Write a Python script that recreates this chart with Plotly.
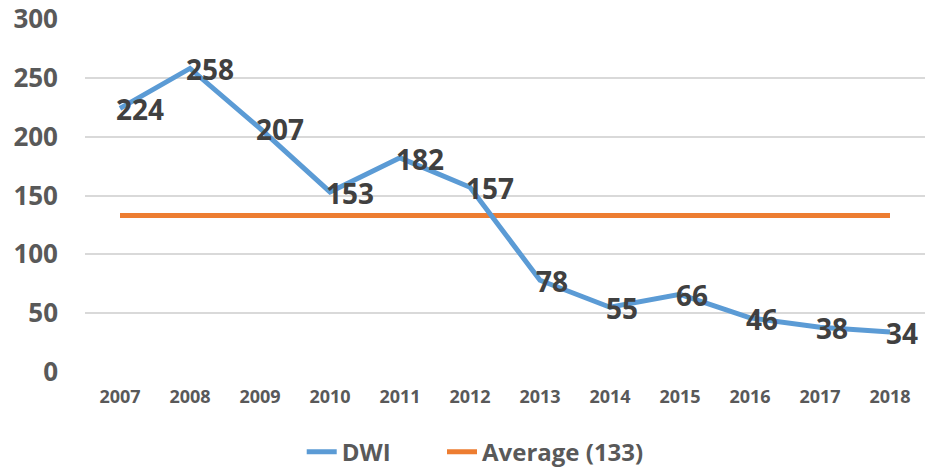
import plotly.graph_objects as go

years = ["2007", "2008", "2009", "2010", "2011", "2012", "2013", "2014", "2015", "2016", "2017", "2018"]
dwi = [224, 258, 207, 153, 182, 157, 78, 55, 66, 46, 38, 34]
average_value = 133
average = [average_value] * len(years)
y_ticks = [0, 50, 100, 150, 200, 250, 300]

FONT = "Open Sans"
LEGEND_FONT = dict(family=FONT, size=24, color="#595959", weight="bold")

fig = go.Figure()
fig.add_trace(go.Scatter(
    x=years, y=average, name=f"Average ({average_value})", mode="lines",
    line=dict(color="#ED7D31", width=5), legend="legend2",
))
fig.add_trace(go.Scatter(
    x=years, y=dwi, name="DWI", mode="lines",
    line=dict(color="#5B9BD5", width=5), legend="legend",
))

# category index positions for the data labels
for i, v in enumerate(dwi):
    fig.add_annotation(
        x=i, y=v, xref="x", yref="y", text=str(v), showarrow=False,
        xanchor="left", yanchor="middle", xshift=-6, yshift=-1,
        font=dict(family=FONT, size=28, color="#404040", weight="bold"),
    )

fig.update_layout(
    width=927, height=469,
    margin=dict(l=85, r=2, t=19, b=97),
    paper_bgcolor="white", plot_bgcolor="white",
    showlegend=True,
    legend=dict(orientation="h", x=0.258, xanchor="left",
                yref="container", y=0.036, yanchor="middle",
                font=LEGEND_FONT, itemwidth=30),
    legend2=dict(orientation="h", x=0.425, xanchor="left",
                 yref="container", y=0.036, yanchor="middle",
                 font=LEGEND_FONT, itemwidth=30),
    xaxis=dict(type="category", categoryorder="array", categoryarray=years,
               range=[-0.5, len(years) - 0.5],
               showgrid=False, zeroline=False, showline=False,
               automargin=False,
               tickfont=dict(family=FONT, size=18, color="#595959", weight="bold"),
               ticks="", ticklabelstandoff=12),
    yaxis=dict(range=[0, 300], tickvals=y_ticks, showgrid=True, gridcolor="#D9D9D9",
               gridwidth=1.5, zeroline=False, showline=False, automargin=False,
               tickfont=dict(family=FONT, size=26, color="#595959", weight="bold"),
               ticks="", ticklabelstandoff=26),
)

fig.write_html("out.html", config={"displayModeBar": False},
               post_script="document.body.style.margin='0';document.body.style.overflow='hidden';")
